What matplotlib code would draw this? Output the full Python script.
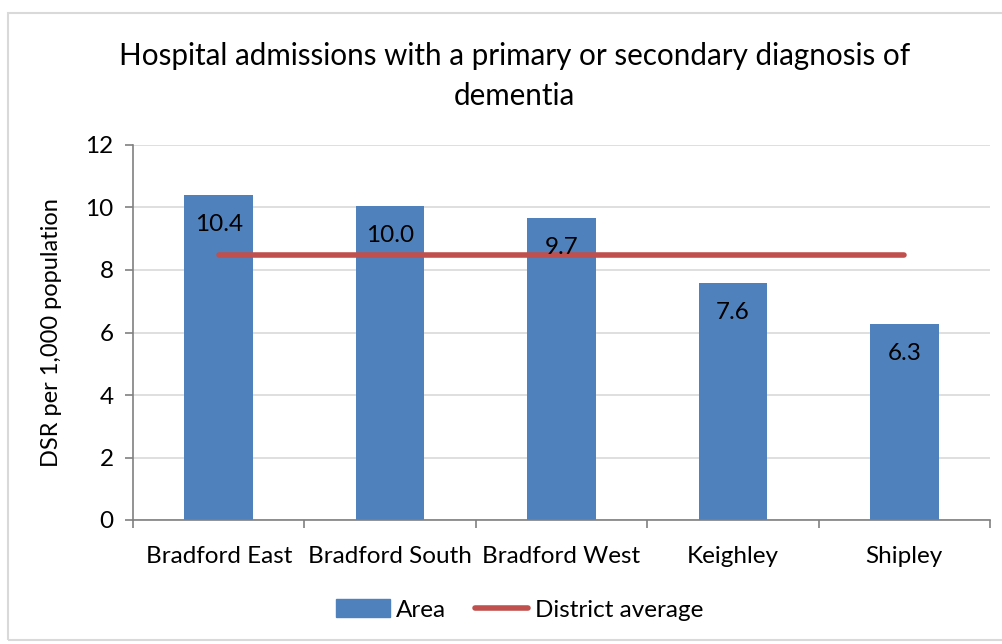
import matplotlib.pyplot as plt
from matplotlib.patches import Rectangle, Patch
from matplotlib.lines import Line2D

# Data
areas = ['Bradford East', 'Bradford South', 'Bradford West', 'Keighley', 'Shipley']
dsr = [10.4, 10.05, 9.67, 7.6, 6.28]
labels = ['10.4', '10.0', '9.7', '7.6', '6.3']
district_avg = [8.48, 8.48, 8.48, 8.48, 8.48]

plt.rcParams['font.family'] = ['Lato', 'DejaVu Sans']

fig = plt.figure(figsize=(10.03, 6.44), dpi=100)
ax = fig.add_axes([133 / 1003, 1 - 520 / 644, 857 / 1003, 375 / 644])

# chart border
fig.patches.append(Rectangle((8 / 1003, 1 - 640 / 644), 1.0, 627 / 644, transform=fig.transFigure,
                             fill=False, edgecolor='#d9d9d9', linewidth=1.5))

x = list(range(len(areas)))
ax.bar(x, dsr, width=0.4, color='#4f81bd', zorder=2)
ax.plot(x, district_avg, color='#c0504d', linewidth=4, solid_capstyle='round', zorder=3)

for xi, v, lab in zip(x, dsr, labels):
    ax.text(xi, v - 0.95, lab, ha='center', va='center', fontsize=17.5, color='black', zorder=4)

ax.set_xlim(-0.5, len(areas) - 0.5)
ax.set_ylim(0, 12)
ax.set_yticks(range(0, 13, 2))
ax.yaxis.grid(True, color='#d9d9d9', linewidth=1.2, zorder=0)
ax.set_axisbelow(True)

ax.set_xticks([i - 0.5 for i in range(len(areas) + 1)], minor=False)
ax.set_xticklabels([])
ax.set_xticks(x, minor=True)
ax.set_xticklabels(areas, minor=True, fontsize=17.5)
ax.tick_params(axis='x', which='major', length=6, color='#808080', width=1.2)
ax.tick_params(axis='x', which='minor', length=0, pad=19)
ax.tick_params(axis='y', length=6, color='#808080', width=1.2, labelsize=17.5, pad=8)

for s in ['top', 'right']:
    ax.spines[s].set_visible(False)
for s in ['left', 'bottom']:
    ax.spines[s].set_color('#808080')
    ax.spines[s].set_linewidth(1.2)

ax.set_ylabel('DSR per 1,000 population', fontsize=17, labelpad=17)
fig.text(0.513, 1 - 76 / 644, 'Hospital admissions with a primary or secondary diagnosis of\ndementia',
         ha='center', va='center', fontsize=21.3, linespacing=1.5)

handles = [Patch(color='#4f81bd', label='Area'),
           Line2D([0], [0], color='#c0504d', linewidth=4, solid_capstyle='round', label='District average')]
fig.legend(handles=handles, loc='center', bbox_to_anchor=(0.518, 1 - 610 / 644), ncol=2, frameon=False,
           fontsize=17.5, handlelength=2.2, handletextpad=0.25, columnspacing=1.2)

fig.savefig('out.png', dpi=100)
